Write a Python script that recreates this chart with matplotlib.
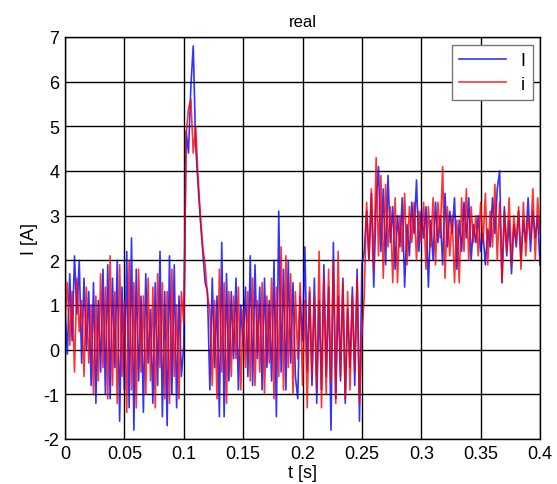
import numpy as np
import matplotlib
matplotlib.use("Agg")
import matplotlib.pyplot as plt

plt.rcParams['font.family'] = ['Liberation Sans', 'DejaVu Sans']
plt.rcParams['axes.unicode_minus'] = False

# sample time step [s]
dt = 0.002

i_blue = [
    0.9, -0.1, 1.7, 0.2, 2.1, 0.8, 2.0, -0.3, 1.6, 0.0,
    1.3, -0.8, 1.5, -1.2, 1.1, -0.5, 1.8, -1.0, 1.9, -1.1,
    1.6, -0.4, 2.0, -1.6, 1.4, -0.9, 2.2, -1.3, 2.5, -1.8,
    1.8, -0.7, 1.2, -1.4, 1.7, -0.3, 0.9, -1.2, 1.5, -0.8,
    2.2, -1.5, 1.3, -1.7, 2.1, -1.0, 1.9, -1.3, 1.2, -0.6,
    0.1, 4.9, 4.4, 5.9, 6.8, 4.6, 3.7, 2.9, 2.2, 1.5,
    1.3, -0.9, 1.6, -0.4, 1.2, -1.5, 2.4, -1.5, 1.7, -0.7,
    1.3, -0.2, 1.6, -0.9, 1.0, 0.1, 1.4, -0.6, 2.1, -0.8,
    1.9, -0.2, 1.4, -0.9, 1.6, -0.4, 1.1, -0.7, 2.0, -1.5,
    3.1, -0.5, 1.8, -0.9, 2.0, -0.3, 1.5, -0.6, -1.1, 1.2,
    0.2, 2.3, -0.5, 1.3, -0.8, 1.6, -1.2, 1.1, -0.9, 1.9,
    -0.6, 1.4, -1.8, 2.4, -1.1, 1.2, -0.7, 1.6, -1.2, 0.9,
    -0.4, 1.4, -0.8, 1.8, -1.6, 1.9, 2.2, 3.1, 2.0, 3.5,
    1.4, 3.3, 4.1, 2.2, 3.6, 1.9, 3.9, 2.4, 3.2, 1.8,
    3.0, 2.3, 3.4, 1.4, 2.8, 2.1, 3.3, 2.6, 3.8, 2.2,
    3.1, 2.5, 3.2, 1.4, 2.9, 2.0, 3.3, 2.4, 3.0, 1.9,
    3.5, 2.3, 3.1, 2.6, 3.4, 1.8, 2.9, 2.2, 3.3, 2.5,
    3.4, 2.0, 2.8, 2.4, 3.0, 2.2, 2.6, 1.9, 2.7, 2.3,
    3.4, 2.6, 3.6, 4.0, 1.5, 3.2, 2.1, 2.9, 1.7, 2.8,
    2.3, 3.1, 2.0, 2.9, 2.4, 3.4, 2.2, 3.1, 2.5, 3.0,
    1.9,
]

i_red = [
    0.7, 1.5, 0.1, 1.3, -0.5, 1.6, 0.4, 1.1, -0.6, 1.4,
    -0.3, 1.0, -1.0, 1.2, -0.7, 1.7, -0.4, 1.4, -1.1, 2.1,
    -0.8, 1.3, -1.2, 1.9, -0.6, 1.1, -1.4, 2.0, -0.9, 1.5,
    -1.3, 1.8, -0.5, 1.2, -1.0, 1.6, -0.7, 1.4, -1.3, 1.7,
    -0.4, 1.5, -1.1, 1.3, -1.2, 1.8, -0.6, 1.0, -1.1, 1.3,
    0.6, 4.8, 5.4, 5.6, 4.4, 5.0, 3.9, 3.0, 2.3, 1.9,
    1.2, 0.9, -0.8, 1.1, -1.1, 1.8, -0.5, 1.5, -1.2, 1.3,
    -0.6, 1.2, -0.2, 1.4, -0.9, 0.9, -0.4, 1.3, -0.7, 1.6,
    -0.8, 1.1, -0.5, 1.5, -1.0, 1.2, -0.3, 1.6, -1.1, 1.4,
    -0.6, 2.3, -0.9, 2.1, -0.4, 1.7, -1.0, 1.3, -0.2, 1.5,
    -0.8, 1.1, -1.3, 1.4, -0.6, 1.2, -0.9, 2.2, -1.3, 1.6,
    -1.0, 1.8, -0.7, 2.0, -1.2, 2.2, -0.6, 1.5, -1.1, 1.3,
    -0.9, 1.2, -0.5, 1.6, -1.2, 0.3, 1.2, 3.3, 2.0, 3.6,
    1.8, 4.3, 2.1, 3.9, 1.6, 3.7, 2.3, 3.2, 1.5, 3.4,
    1.5, 3.0, 2.2, 3.5, 1.9, 3.2, 2.4, 3.3, 2.0, 3.1,
    2.4, 3.3, 1.8, 3.2, 2.3, 3.4, 1.9, 3.3, 2.5, 4.1,
    1.6, 3.2, 2.1, 3.0, 1.5, 2.9, 1.5, 3.4, 2.2, 3.6,
    2.0, 3.2, 2.4, 3.0, 2.1, 3.3, 2.4, 3.5, 1.9, 3.1,
    2.3, 3.7, 2.0, 3.3, 1.5, 3.1, 2.2, 3.4, 1.9, 3.0,
    2.4, 3.2, 1.8, 3.3, 2.1, 3.0, 2.5, 3.6, 2.0, 3.4,
    2.6,
]

labels = ['I', 'i']
x_ticks = [0, 0.05, 0.1, 0.15, 0.2, 0.25, 0.3, 0.35, 0.4]
x_tick_labels = ['0', '0.05', '0.1', '0.15', '0.2', '0.25', '0.3', '0.35', '0.4']
y_ticks = [-2, -1, 0, 1, 2, 3, 4, 5, 6, 7]

t = np.arange(len(i_blue)) * dt

fig = plt.figure(figsize=(5.57, 4.85), dpi=100)
ax = fig.add_axes([65 / 557, 1 - 440 / 485, 475 / 557, 402 / 485])

ax.plot(t, i_blue, color='#0000ff', lw=1.2, alpha=0.8, label=labels[0])
ax.plot(t, i_red, color='#ff0000', lw=1.2, alpha=0.8, label=labels[1])

ax.set_xlim(0, 0.4)
ax.set_ylim(-2, 7)
ax.set_xticks(x_ticks)
ax.set_xticklabels(x_tick_labels)
ax.set_yticks(y_ticks)
ax.grid(True, color='black', lw=1.0, ls='-')
ax.set_axisbelow(True)
ax.tick_params(direction='in', length=0, labelsize=13, pad=4)
for s in ax.spines.values():
    s.set_color('black')
    s.set_linewidth(1.0)

ax.set_title('real', fontsize=12, pad=8)
ax.set_xlabel('t [s]', fontsize=13, labelpad=2)
ax.set_ylabel('I [A]', fontsize=13, labelpad=4)

leg = ax.legend(loc='upper right', bbox_to_anchor=(0.985, 0.98), fontsize=13,
                handlelength=2.6, fancybox=False, framealpha=1, borderaxespad=0,
                edgecolor='#777777', labelspacing=0.35)
leg.get_frame().set_linewidth(1.0)

fig.savefig('out.png', dpi=100)
